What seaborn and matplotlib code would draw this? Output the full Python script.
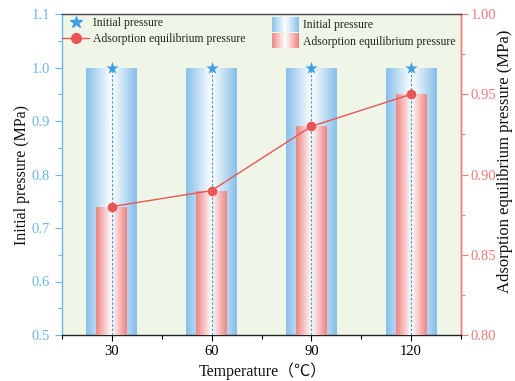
import numpy as np
import matplotlib
matplotlib.use("Agg")
import matplotlib.pyplot as plt
import seaborn as sns
from matplotlib.colors import LinearSegmentedColormap
from matplotlib.legend_handler import HandlerBase
from matplotlib.patches import Rectangle, Patch
from matplotlib.lines import Line2D
from matplotlib.ticker import MultipleLocator, FormatStrFormatter, FixedLocator

# ---- data ----
temperatures = ["30", "60", "90", "120"]
initial_pressure = [1.0, 1.0, 1.0, 1.0]
adsorption_pressure = [0.88, 0.89, 0.93, 0.95]
left_ticks = [0.5, 0.6, 0.7, 0.8, 0.9, 1.0, 1.1]
right_ticks = [0.80, 0.85, 0.90, 0.95, 1.00]

# ---- styles ----
sns.set_theme(style="white")
plt.rcParams["font.family"] = ["Liberation Serif", "Noto Sans CJK SC"]

BLUE_EDGE = "#86bfe9"
RED_EDGE = "#ef8383"
STAR_C = "#3f9fe3"
LINE_C = "#e85656"
LEFT_C = "#6cb5ea"
RIGHT_C = "#f07b7b"
BG = "#eff6e7"

L_LIM = (0.5, 1.1)
R_LIM = (0.80, 1.00)


def to_right(y):
    return R_LIM[0] + (np.asarray(y) - L_LIM[0]) * (R_LIM[1] - R_LIM[0]) / (L_LIM[1] - L_LIM[0])


def to_left(p):
    return L_LIM[0] + (np.asarray(p) - R_LIM[0]) * (L_LIM[1] - L_LIM[0]) / (R_LIM[1] - R_LIM[0])


blue_cmap = LinearSegmentedColormap.from_list("b", [BLUE_EDGE, "#ffffff", BLUE_EDGE])
red_cmap = LinearSegmentedColormap.from_list("r", [RED_EDGE, "#ffffff", RED_EDGE])

fig = plt.figure(figsize=(5.15, 3.81), dpi=100)
ax = fig.add_axes([62 / 515, 1 - 335 / 381, (461 - 62) / 515, (335 - 14) / 381])
ax.set_facecolor(BG)

n_before = len(ax.patches)
sns.barplot(x=temperatures, y=initial_pressure, ax=ax, width=0.51,
            color=BLUE_EDGE, saturation=1, zorder=1)
blue_bars = ax.patches[n_before:]
n_before = len(ax.patches)
sns.barplot(x=temperatures, y=list(to_left(adsorption_pressure)), ax=ax, width=0.31,
            color=RED_EDGE, saturation=1, zorder=3)
red_bars = ax.patches[n_before:]

grad = np.linspace(0, 1, 256).reshape(1, -1)
for bars, cmap, z in ((blue_bars, blue_cmap, 2), (red_bars, red_cmap, 4)):
    for p in bars:
        x0 = p.get_x()
        w = p.get_width()
        top = p.get_y() + p.get_height()
        p.set_facecolor("none")
        p.set_edgecolor("none")
        im = ax.imshow(grad, cmap=cmap, aspect="auto", extent=(x0, x0 + w, L_LIM[0], top),
                       zorder=z, interpolation="bicubic")
        im.set_clip_path(p)

pos = np.arange(len(temperatures))
ax.vlines(pos, L_LIM[0], initial_pressure, colors=STAR_C, linestyles=(0, (2, 1.5)),
          linewidth=0.9, zorder=5)

sns.lineplot(x=pos, y=to_left(adsorption_pressure), ax=ax, color=LINE_C, linewidth=1.0,
             marker="o", markersize=7, markeredgewidth=0, zorder=6, legend=False)
sns.scatterplot(x=pos, y=initial_pressure, ax=ax, color=STAR_C, marker="*", s=90,
                linewidth=0, zorder=7, legend=False)

ax.set_xlim(-0.5, len(temperatures) - 0.5)
ax.set_ylim(*L_LIM)
ax.set_xticks(pos)
ax.set_xticklabels(temperatures)
ax.xaxis.set_minor_locator(MultipleLocator(0.5))
ax.yaxis.set_major_locator(FixedLocator(left_ticks))
ax.yaxis.set_major_formatter(FormatStrFormatter("%.1f"))
ax.yaxis.set_minor_locator(FixedLocator(np.arange(0.55, 1.1, 0.1)))

ax.tick_params(axis="x", which="both", direction="out", bottom=True, color="black",
               labelsize=10.5, labelcolor="black")
ax.tick_params(axis="x", which="major", length=4, width=0.8)
ax.tick_params(axis="x", which="minor", length=3, width=0.8)
ax.tick_params(axis="y", which="both", direction="out", left=True, color=LEFT_C,
               labelcolor=LEFT_C, labelsize=10.5, width=0.8)
ax.tick_params(axis="y", which="major", length=5)
ax.tick_params(axis="y", which="minor", length=3)

for s in ("top", "bottom", "left", "right"):
    ax.spines[s].set_visible(True)
    ax.spines[s].set_linewidth(1.0)
ax.spines["bottom"].set_color("#222222")
ax.spines["top"].set_color("#444444")
ax.spines["left"].set_color(LEFT_C)
ax.spines["right"].set_color(RIGHT_C)

ax.set_xlabel("Temperature（℃）", fontsize=11.5, labelpad=2, color="#111111")
ax.xaxis.set_label_coords(0.502, -0.085)
ax.set_ylabel("Initial pressure (MPa)", fontsize=11.5, labelpad=1, color="#111111")

sec = ax.secondary_yaxis("right", functions=(to_right, to_left))
sec.yaxis.set_major_locator(FixedLocator(right_ticks))
sec.yaxis.set_minor_locator(FixedLocator(np.arange(0.825, 1.0, 0.05)))
sec.yaxis.set_major_formatter(FormatStrFormatter("%.2f"))
sec.tick_params(axis="y", which="both", direction="out", color=RIGHT_C, labelcolor=RIGHT_C,
                labelsize=10.5, width=0.8, pad=2)
sec.tick_params(axis="y", which="major", length=5)
sec.tick_params(axis="y", which="minor", length=3)
sec.spines["right"].set_color(RIGHT_C)
sec.spines["right"].set_linewidth(1.0)
sec.set_ylabel("Adsorption equilibrium pressure (MPa)", fontsize=12, color="#111111")
sec.yaxis.label.set_rotation_mode("anchor")
sec.yaxis.label.set_horizontalalignment("center")
sec.yaxis.label.set_verticalalignment("center")
sec.yaxis.set_label_coords(1.11, 0.54, transform=ax.transAxes)

# legend 1: markers
h1 = [Line2D([], [], color=STAR_C, marker="*", markersize=9, linestyle="none"),
      Line2D([], [], color=LINE_C, marker="o", markersize=7, linewidth=1.0)]
leg1 = ax.legend(h1, ["Initial pressure", "Adsorption equilibrium pressure"],
                 loc="upper left", bbox_to_anchor=(0.0, 0.99), frameon=False,
                 fontsize=8.5, handlelength=2.3, handletextpad=0.35, labelspacing=0.3,
                 borderaxespad=0.0, borderpad=0.0)
ax.add_artist(leg1)


class GradHandler(HandlerBase):
    def __init__(self, cmap):
        super().__init__()
        self.cmap = cmap

    def create_artists(self, legend, orig_handle, xdescent, ydescent, width, height,
                       fontsize, trans):
        n = 40
        arts = []
        for i in range(n):
            r = Rectangle((-xdescent + i * width / n, -ydescent - 2), width / n + 0.05,
                          height + 4, facecolor=self.cmap((i + 0.5) / n), edgecolor="none",
                          transform=trans)
            arts.append(r)
        return arts


pb = Patch(label="Initial pressure")
pr = Patch(label="Adsorption equilibrium pressure")
leg2 = ax.legend([pb, pr], ["Initial pressure", "Adsorption equilibrium pressure"],
                 loc="upper right", bbox_to_anchor=(1.005, 1.005), frameon=False,
                 fontsize=8.5, handlelength=2.3, handleheight=0.9, handletextpad=0.4,
                 labelspacing=0.35, borderaxespad=0.2,
                 handler_map={pb: GradHandler(blue_cmap), pr: GradHandler(red_cmap)})

fig.savefig("out.png", dpi=100)
